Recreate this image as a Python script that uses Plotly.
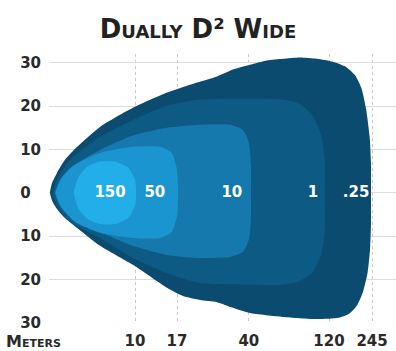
import plotly.graph_objects as go

# ---- data (chart units: x = beam-distance scale position, y = width +/-) ----
METER_TICK_POS = [24.8, 36.9, 57.6, 80.7, 93.1]
METER_TICK_TEXT = ["10", "17", "40", "120", "245"]

WIDTH_TICK_VALS = [30, 20, 10, 0, -10, -20, -30]
WIDTH_TICK_TEXT = ["30", "20", "10", "0\u2007", "10", "20", "30"]

# isolux contours (outer -> inner)
zone_025_x = [0.3, 0.9, 2.3, 4.6, 8.1, 14.7, 24.2, 34.0, 39.8, 43.5, 48.4, 53.0, 57.9, 62.8, 67.4,
              72.3, 77.2, 81.8, 85.6, 88.3, 90.0, 91.4, 92.4, 92.8, 92.8, 92.8, 92.5, 91.8, 90.5,
              88.8, 86.6, 83.5, 77.2, 67.4, 57.9, 53.0, 48.4, 43.5, 38.6, 34.0, 24.2, 14.7, 8.1,
              4.6, 2.3, 0.9, 0.3]
zone_025_y = [0, 2.3, 4.6, 7.6, 10.6, 15.2, 19.6, 23.1, 24.7, 25.6, 26.8, 28.4, 29.5, 30.5, 30.9,
              31.2, 30.9, 30.2, 29.0, 27.0, 24.2, 19.2, 12.9, 6.5, 0, -6.7, -13.2, -18.5, -22.8,
              -25.9, -27.8, -28.8, -29.1, -28.6, -27.7, -26.5, -25.2, -24.7, -23.8, -21.9, -16.6,
              -12.2, -8.1, -5.8, -3.7, -1.8, 0]

zone_1_x = [1.2, 2.6, 6.1, 14.7, 24.2, 34.0, 43.5, 57.9, 67.4, 72.3, 75.8, 78.4, 79.5, 79.5, 79.5,
            78.4, 75.8, 71.8, 67.4, 57.9, 43.5, 34.0, 24.2, 14.7, 6.1, 2.6, 1.2]
zone_1_y = [0, 3.5, 7.6, 12.9, 16.8, 20.1, 21.5, 21.7, 21.5, 20.5, 18.0, 13.4, 7.6, 0, -8.5,
            -14.3, -18.5, -20.5, -21.2, -21.2, -20.8, -18.5, -15.0, -10.4, -6.7, -3.5, 0]

zone_10_x = [1.7, 3.2, 6.1, 14.7, 24.2, 34.0, 43.5, 52.2, 55.9, 57.6, 58.2, 58.2, 58.2, 57.6, 55.9,
             52.2, 43.5, 34.0, 24.2, 14.7, 6.1, 3.2, 1.7]
zone_10_y = [0, 3.0, 5.8, 9.9, 13.2, 15.0, 15.7, 15.7, 14.5, 11.5, 6.5, 0, -6.2, -10.8, -13.6,
             -14.8, -15.0, -14.3, -12.2, -9.0, -5.3, -3.0, 0]

zone_50_x = [2.0, 3.7, 7.5, 14.7, 24.2, 32.0, 35.4, 36.9, 37.2, 36.9, 35.4, 32.0, 24.2, 14.7, 7.5,
             3.7, 2.0]
zone_50_y = [0, 3.5, 6.5, 9.2, 10.6, 10.6, 9.2, 5.3, 0, -5.3, -9.0, -10.4, -10.4, -9.2, -6.7,
             -3.5, 0]

zone_150_x = [7.2, 8.4, 11.0, 14.7, 19.0, 22.8, 24.8, 25.1, 24.8, 22.8, 19.0, 14.7, 11.0, 8.4, 7.2]
zone_150_y = [0, 3.5, 6.0, 7.2, 7.2, 5.8, 3.0, 0, -3.0, -5.8, -7.2, -7.2, -6.0, -3.5, 0]

LUX_LABELS = ["150", "50", "10", "1", ".25"]
LUX_LABEL_X = [17.6, 30.5, 52.7, 76.1, 88.5]
LUX_LABEL_Y = [0, 0, 0, 0, 0]

zones = [
    (zone_025_x, zone_025_y, "#0b4b6f"),
    (zone_1_x, zone_1_y, "#0d5b84"),
    (zone_10_x, zone_10_y, "#1579ad"),
    (zone_50_x, zone_50_y, "#1b95cf"),
    (zone_150_x, zone_150_y, "#22aee9"),
]

FONT = "DejaVu Sans"

fig = go.Figure()
for zx, zy, col in zones:
    fig.add_trace(go.Scatter(
        x=zx, y=zy, mode="lines", fill="toself", fillcolor=col,
        line=dict(width=0, color=col, shape="spline", smoothing=0.6),
        hoverinfo="skip", showlegend=False,
    ))

fig.add_trace(go.Scatter(
    x=LUX_LABEL_X, y=LUX_LABEL_Y, mode="text", text=LUX_LABELS,
    textfont=dict(family=FONT, size=15, color="white", weight="bold"),
    textposition="middle center", hoverinfo="skip", showlegend=False,
))

fig.update_layout(
    width=396, height=351,
    margin=dict(l=49, r=0, t=54, b=28),
    paper_bgcolor="white", plot_bgcolor="white",
    title=dict(
        text="Dually D² Wide", x=0.5, xref="container", xanchor="center",
        y=1 - 29 / 351, yref="container", yanchor="middle", automargin=False,
        font=dict(family=FONT, size=26, color="#222222", weight="bold", variant="small-caps"),
    ),
    xaxis=dict(
        range=[0, 100], tickmode="array", tickvals=METER_TICK_POS, ticktext=METER_TICK_TEXT,
        showgrid=True, gridcolor="#c8c8c8", griddash="dot", gridwidth=1,
        zeroline=False, showline=False, ticks="", ticklabelstandoff=7, automargin=False,
        tickfont=dict(family=FONT, size=15, color="#2a2a2a", weight="bold"),
        fixedrange=True,
    ),
    yaxis=dict(
        range=[-30, 32], tickmode="array", tickvals=WIDTH_TICK_VALS, ticktext=WIDTH_TICK_TEXT,
        showgrid=True, gridcolor="#dcdcdc", gridwidth=1,
        zeroline=False, showline=False, ticks="", ticklabelstandoff=7, automargin=False,
        tickfont=dict(family=FONT, size=15, color="#2a2a2a", weight="bold"),
        fixedrange=True,
    ),
    annotations=[dict(
        text="Meters", xref="paper", yref="paper", x=(4 - 49) / 347, y=(323 - 341) / 269,
        xanchor="left", yanchor="middle", showarrow=False,
        font=dict(family=FONT, size=16, color="#2a2a2a", weight="bold", variant="small-caps"),
    )],
)

fig.write_html(
    "out.html",
    config={"displayModeBar": False},
    post_script="document.body.style.margin='0';document.body.style.overflow='hidden';",
)
